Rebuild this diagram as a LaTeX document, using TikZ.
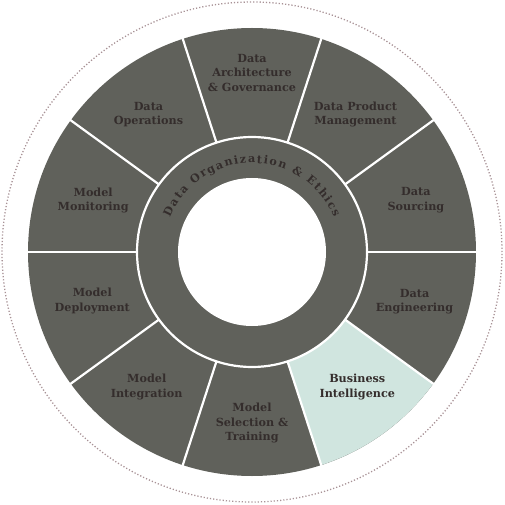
\documentclass[tikz,border=0pt]{standalone}
\usepackage{fontspec}
\setmainfont{DejaVu Serif}
\usepackage{tikz}
\usetikzlibrary{decorations.text}

\definecolor{wheelgray}{RGB}{96,97,91}
\definecolor{wheelmint}{RGB}{208,229,223}
\definecolor{wheeltext}{RGB}{52,45,44}
\definecolor{dotrose}{RGB}{168,146,150}

\tikzset{
  seglabel/.style={align=center, text=wheeltext, inner sep=0pt,
    font=\fontsize{11.2}{14.5}\selectfont\bfseries},
  seam/.style={white, line width=2.2pt}
}

\begin{document}
\begin{tikzpicture}[x=1pt, y=1pt]
      \useasboundingbox (-252,-253) rectangle (253,252);
      \draw[dotrose, line width=1.3pt, dash pattern=on 1.2pt off 2pt] (0,0) circle[radius=250];
      \fill[wheelgray] (0,0) circle[radius=224];
      \fill[wheelmint] (0,0) -- (288:224) arc[start angle=288, end angle=324, radius=224] -- cycle;
      \foreach \ang in {0,36,...,324}
        \draw[seam] (\ang:115) -- (\ang:226);
      \fill[wheelgray] (0,0) circle[radius=115];
      \draw[seam] (0,0) circle[radius=115];
      \fill[white] (0,0) circle[radius=74];
      \path[decorate, decoration={text along path, text align=fit to path,
          text color=wheeltext, text={|\fontsize{11.2}{12}\selectfont\bfseries|Data Organization {\&} Ethics}}]
        (157:89) arc[start angle=157, end angle=23, radius=89];
      \foreach \ang/\rad/\nm/\txt in {
          17.6/172/src/{Data\\Sourcing},
          53/172/dpm/{Data Product\\Management},
          90/179/arch/{Data\\Architecture\\\& Governance},
          127/172/ops/{Data\\Operations},
          162/167/mon/{Model\\Monitoring},
          197/167/dep/{Model\\Deployment},
          232/171/int/{Model\\Integration},
          270/171/sel/{Model\\Selection \&\\Training},
          308/171/bi/{Business\\Intelligence},
          343/170/eng/{Data\\Engineering}}
        \node[seglabel] (\nm) at (\ang:\rad) {\txt};
    \end{tikzpicture}
\end{document}
